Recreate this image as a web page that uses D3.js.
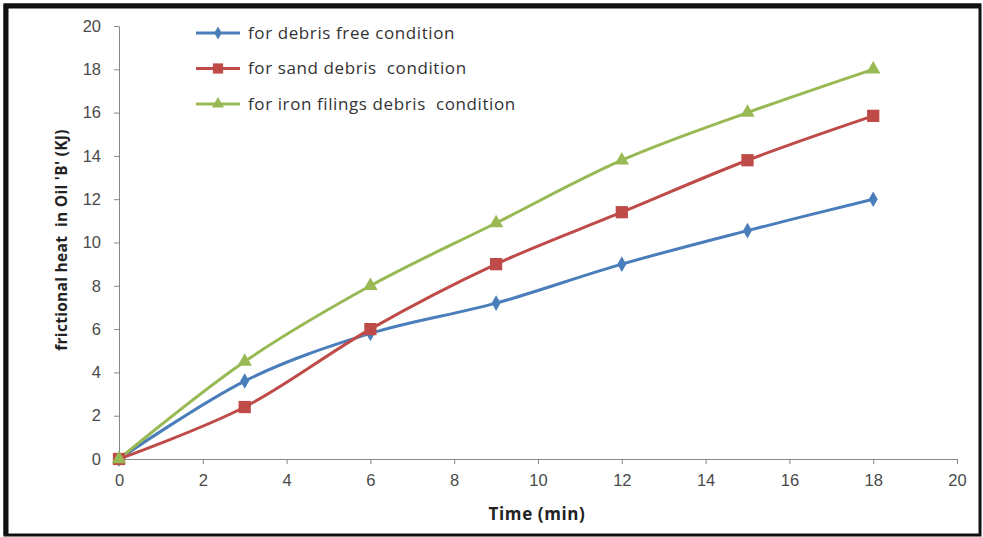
<!DOCTYPE html>
<html>
<head>
<meta charset="utf-8">
<script src="https://cdn.jsdelivr.net/npm/d3@7"></script>
<style>
  body { margin: 0; background: #fff; }
  svg { display: block; font-family: "Open Sans", Lato, sans-serif; }
  text { white-space: pre; }
  .axis path, .axis line { stroke: #868686; }
  .axis text { fill: #4a4a4a; font-size: 16.5px; }
</style>
</head>
<body>
<div id="chart"></div>
<script>
var times = [0, 3, 6, 9, 12, 15, 18];
var debrisFree = [0, 3.6, 5.8, 7.2, 9.0, 10.55, 12.0];
var sandDebris = [0, 2.4, 6.0, 9.0, 11.4, 13.8, 15.85];
var ironDebris = [0, 4.5, 8.0, 10.9, 13.8, 16.0, 18.0];
var seriesNames = ["for debris free condition", "for sand debris  condition", "for iron filings debris  condition"];
var xTicks = [0, 2, 4, 6, 8, 10, 12, 14, 16, 18, 20];
var yTicks = [0, 2, 4, 6, 8, 10, 12, 14, 16, 18, 20];

var W = 983, H = 537;
var margin = { top: 26, right: 26, bottom: 78, left: 119 };

var svg = d3.select("#chart").append("svg")
    .attr("width", W)
    .attr("height", H);

// outer frame
svg.append("rect")
    .attr("x", 5).attr("y", 5)
    .attr("width", W - 8).attr("height", H - 7)
    .attr("fill", "none").attr("stroke", "#111").attr("stroke-width", 3);
svg.append("path")
    .attr("d", "M6,535V6H981")
    .attr("fill", "none").attr("stroke", "#111").attr("stroke-width", 5);

var x = d3.scaleLinear().domain([0, 20]).range([margin.left, W - margin.right]);
var y = d3.scaleLinear().domain([0, 20]).range([H - margin.bottom, margin.top]);

svg.append("g")
    .attr("class", "axis")
    .attr("transform", "translate(0," + y(0) + ")")
    .call(d3.axisBottom(x).tickValues(xTicks).tickSize(5).tickPadding(7).tickSizeOuter(0))
    .selectAll("text").attr("dy", "0.9em");

svg.append("g")
    .attr("class", "axis")
    .attr("transform", "translate(" + x(0) + ",0)")
    .call(d3.axisLeft(y).tickValues(yTicks).tickSize(5).tickPadding(13).tickSizeOuter(0));

svg.append("text")
    .attr("x", (x(0) + x(20)) / 2 - 1)
    .attr("y", 520)
    .attr("text-anchor", "middle")
    .attr("font-weight", "bold")
    .attr("font-size", 17)
    .attr("letter-spacing", 0.6)
    .attr("fill", "#222")
    .text("Time (min)");

svg.append("text")
    .attr("transform", "translate(67," + 240 + ") rotate(-90)")
    .attr("text-anchor", "middle")
    .attr("font-weight", "bold")
    .attr("font-size", 15.5)
    .attr("letter-spacing", 0.3)
    .attr("fill", "#222")
    .text("frictional heat  in Oil 'B' (KJ)");

var series = [
  { name: seriesNames[0], values: debrisFree, color: "#4a7ebb", symbol: d3.symbolDiamond, size: 70 },
  { name: seriesNames[1], values: sandDebris, color: "#be4b48", symbol: d3.symbolSquare, size: 150 },
  { name: seriesNames[2], values: ironDebris, color: "#98b954", symbol: d3.symbolTriangle, size: 90 }
];

var line = d3.line()
    .x(function(d, i) { return x(times[i]); })
    .y(function(d) { return y(d); })
    .curve(d3.curveCatmullRom.alpha(0));

series.forEach(function(s) {
  svg.append("path")
      .attr("d", line(s.values))
      .attr("fill", "none")
      .attr("stroke", s.color)
      .attr("stroke-width", 3);
});

series.forEach(function(s) {
  svg.selectAll(null)
    .data(s.values)
    .enter().append("path")
      .attr("d", d3.symbol().type(s.symbol).size(s.size))
      .attr("transform", function(d, i) { return "translate(" + x(times[i]) + "," + y(d) + ")"; })
      .attr("fill", s.color);
});

// legend
var legend = svg.append("g");
series.forEach(function(s, i) {
  var ly = 33 + i * 35.5;
  legend.append("line")
      .attr("x1", 196).attr("x2", 240)
      .attr("y1", ly).attr("y2", ly)
      .attr("stroke", s.color).attr("stroke-width", 3);
  legend.append("path")
      .attr("d", d3.symbol().type(s.symbol).size(s.size * 0.7))
      .attr("transform", "translate(218," + ly + ")")
      .attr("fill", s.color);
  legend.append("text")
      .attr("x", 248).attr("y", ly)
      .attr("dy", "0.35em")
      .attr("font-size", 17)
      .attr("letter-spacing", 0.6)
      .attr("fill", "#333")
      .text(s.name);
});
</script>
</body>
</html>
